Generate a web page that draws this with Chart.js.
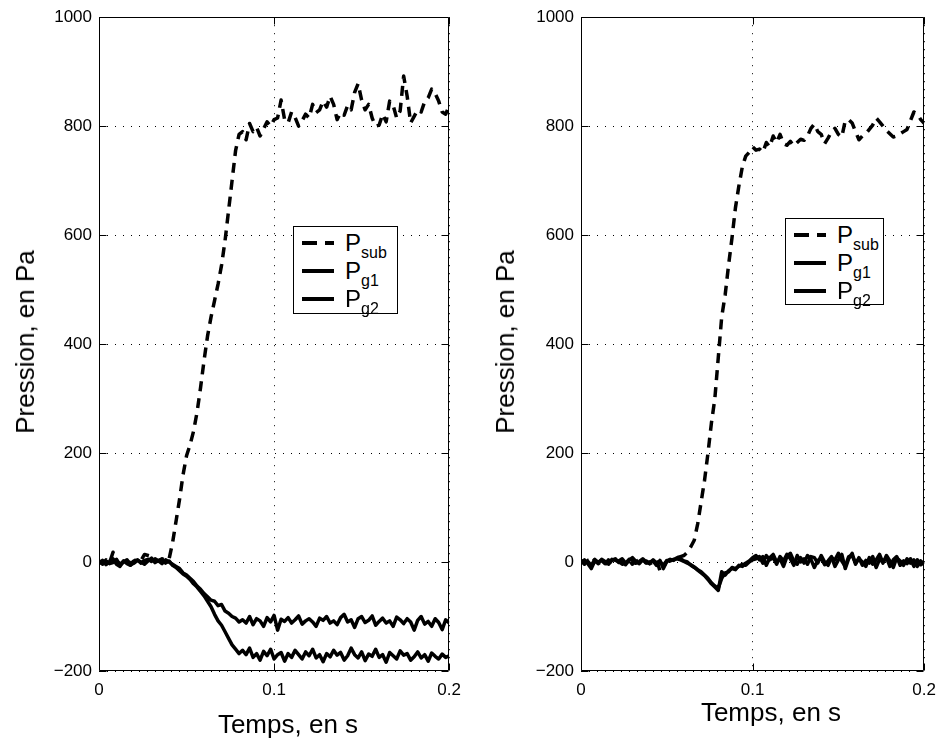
<!DOCTYPE html>
<html lang="fr">
<head>
<meta charset="UTF-8">
<title>Pression, en Pa</title>
<script src="https://cdn.jsdelivr.net/npm/chart.js@4.4.0/dist/chart.umd.min.js"></script>
<style>
    body {
        margin: 0;
        background: #fff;
        font-family: 'Liberation Sans', Arial, Helvetica, sans-serif;
        color: #000;
    }
    #wrap { position: relative; width: 945px; height: 743px; overflow: hidden; }
    canvas { position: absolute; top: 0; }
    #c-left { left: 0; }
    #c-right { left: 470px; }
    .axis-title {
        position: absolute;
        font-size: 26px;
        line-height: 1;
        white-space: nowrap;
        transform: translate(-50%, -50%);
    }
    .axis-title.y { transform: translate(-50%, -50%) rotate(-90deg); }
    .legend {
        position: absolute;
        border: 1px solid #000;
        background: #fff;
        box-sizing: border-box;
    }
    .legend .row {
        position: absolute;
        left: 0;
        height: 28px;
        display: flex;
        align-items: center;
    }
    .legend svg { margin-left: 8px; display: block; }
    .legend .lbl { margin-left: 11px; font-size: 24px; line-height: 1; white-space: nowrap; }
    .legend sub { font-size: 16px; vertical-align: -7px; line-height: 0; }
</style>
</head>
<body>
<div id="wrap">
    <canvas id="c-left" width="470" height="743"></canvas>
    <canvas id="c-right" width="475" height="743"></canvas>

    <div class="axis-title y" style="left:25px; top:342px;">Pression, en Pa</div>
    <div class="axis-title" style="left:288px; top:724px;">Temps, en s</div>
    <div class="axis-title y" style="left:505px; top:342px;">Pression, en Pa</div>
    <div class="axis-title" style="left:771px; top:712px;">Temps, en s</div>

    <div class="legend" id="leg-left" style="left:293px; top:226px; width:105px; height:88px;"></div>
    <div class="legend" id="leg-right" style="left:785px; top:218px; width:99px; height:87px;"></div>
</div>

<script>
    // sampling times (s)
    const time = [
        0.000, 0.002, 0.004, 0.006, 0.008, 0.010, 0.012, 0.014, 0.016, 0.018,
        0.020, 0.022, 0.024, 0.026, 0.028, 0.030, 0.032, 0.034, 0.036, 0.038,
        0.040, 0.042, 0.044, 0.046, 0.048, 0.050, 0.052, 0.054, 0.056, 0.058,
        0.060, 0.062, 0.064, 0.066, 0.068, 0.070, 0.072, 0.074, 0.076, 0.078,
        0.080, 0.082, 0.084, 0.086, 0.088, 0.090, 0.092, 0.094, 0.096, 0.098,
        0.100, 0.102, 0.104, 0.106, 0.108, 0.110, 0.112, 0.114, 0.116, 0.118,
        0.120, 0.122, 0.124, 0.126, 0.128, 0.130, 0.132, 0.134, 0.136, 0.138,
        0.140, 0.142, 0.144, 0.146, 0.148, 0.150, 0.152, 0.154, 0.156, 0.158,
        0.160, 0.162, 0.164, 0.166, 0.168, 0.170, 0.172, 0.174, 0.176, 0.178,
        0.180, 0.182, 0.184, 0.186, 0.188, 0.190, 0.192, 0.194, 0.196, 0.198,
        0.200
    ];

    // left plot (Pa)
    const pSubLeft = [
        2, -3, 4, -2, 18, 3, -4, 1, 5, -3,
        2, 6, 3, 14, 12, 10, 4, 2, 6, 3,
        5, 35, 75, 115, 160, 195, 215, 240, 275, 320,
        370, 415, 450, 480, 510, 545, 590, 645, 700, 755,
        785, 790, 775, 805, 790, 798, 782, 795, 808, 800,
        812, 815, 848, 812, 806, 826, 816, 800, 810, 822,
        815, 840, 825, 830, 846, 835, 855, 840, 812, 825,
        820, 838, 830, 862, 878, 848, 830, 840, 815, 800,
        802, 822, 808, 846, 838, 815, 828, 892, 855, 806,
        818, 830, 826, 845, 852, 868, 860, 846, 826, 822,
        838
    ];
    const pG1Left = [
        -2, 3, -5, 1, 6, -4, -8, 2, -3, -6,
        1, 4, -2, 3, 5, 1, 6, 2, -3, 4,
        0, -4, -8, -12, -20, -24, -30, -36, -44, -50,
        -58, -64, -70, -72, -80, -78, -90, -94, -100, -103,
        -110, -106, -112, -100, -115, -104, -108, -118, -102, -110,
        -98, -125, -105, -109, -102, -112, -106, -99, -114, -108,
        -104, -110, -118, -103, -107, -100, -112, -108, -115, -102,
        -96, -110, -106, -120, -104, -100, -111, -107, -99, -116,
        -109, -103, -112, -108, -118, -101, -106, -113, -104, -110,
        -125, -107, -100, -114, -109, -118, -104, -111, -124, -106,
        -112
    ];
    const pG2Left = [
        1, -4, 2, -3, -1, 5, -6, 0, 4, -5,
        -2, 3, 0, -4, 2, 7, -1, 3, 5, -2,
        2, -6, -10, -16, -22, -26, -32, -40, -46, -54,
        -62, -72, -82, -96, -108, -116, -128, -140, -152, -160,
        -168, -162, -170, -158, -175, -168, -180, -164, -172, -160,
        -178, -170, -166, -182, -168, -175, -162, -170, -178, -165,
        -172, -160, -176, -170, -183, -168, -174, -162, -171, -166,
        -180, -172, -158, -170, -176, -165, -181, -169, -173, -160,
        -175, -170, -184, -166, -172, -178, -163, -171, -168, -180,
        -174, -165, -176, -170, -182, -167, -173, -178, -169, -175,
        -172
    ];

    // right plot (Pa)
    const pSubRight = [
        2, -4, 3, -2, 5, -3, 1, -5, 4, 0,
        -3, 2, 6, -2, 3, -4, 1, 4, -2, 2,
        -3, 0, 5, -16, -10, 2, 4, 6, 8, 10,
        12, 18, 28, 40, 70, 110, 150, 200, 255, 300,
        375, 450, 490, 545, 595, 650, 690, 725, 745, 752,
        762, 756, 758, 752, 770, 762, 782, 770, 785, 768,
        765, 772, 764, 770, 776, 774, 782, 796, 804, 790,
        785, 768, 778, 790, 796, 785, 780, 810, 812, 806,
        790, 775, 782, 786, 794, 802, 815, 808, 800, 792,
        786, 780, 782, 786, 790, 794, 810, 826, 822, 812,
        805
    ];
    const pG1Right = [
        0, 4, -3, -12, 2, -2, 5, 1, -4, 3,
        6, -1, 2, -5, 3, 8, 1, -3, 4, -2,
        0, 2, -6, 3, -12, 1, 5, 3, 8, 6,
        2, 0, -6, -10, -15, -20, -25, -32, -40, -46,
        -52, -18, -24, -16, -12, -14, -6, -8, -2, 2,
        8, 12, 4, 10, -6, 8, 14, 0, 6, -8,
        10, 16, 2, -4, 8, -2, 12, 5, -10, 3,
        7, -5, 2, 10, -8, 4, 14, -12, 6, 16,
        -4, 8, -6, 3, -2, 10, -10, 5, 0, 8,
        -8, 4, 10, -6, 2, -3, 6, -8, 4, -5,
        0
    ];
    const pG2Right = [
        2, -2, 1, -6, 4, 0, 3, -3, -2, 5,
        3, 1, -4, -2, 5, 4, -2, 1, 6, 0,
        -3, 4, -2, 1, -6, 3, 2, 5, 6, 4,
        1, -2, -5, -9, -14, -18, -24, -30, -38, -44,
        -48, -30, -20, -18, -10, -12, -8, -4, -6, 0,
        4, 6, 10, -2, 12, 4, 8, -4, 10, 2,
        14, 6, -6, 12, 0, 6, -4, 10, 8, -2,
        12, 0, -6, 8, 4, 16, 2, -8, 10, 12,
        -2, 6, 0, -8, 8, -4, 4, 14, -2, 12,
        2, -10, 8, 2, -6, 6, -2, 4, -8, 2,
        -4
    ];

    const seriesSubs = ['sub', 'g1', 'g2'];
    const seriesDash = [[10, 7], [], []];
    const xTicks = [0, 0.1, 0.2];
    const yTicks = [-200, 0, 200, 400, 600, 800, 1000];

    const FONT = "'Liberation Sans', Arial, Helvetica, sans-serif";
    Chart.defaults.font.family = FONT;
    Chart.defaults.color = '#000';

    // axes box + inward tick marks, MATLAB style
    const frame = {
        id: 'frame',
        afterDraw(chart) {
            const { ctx, chartArea: a, scales } = chart;
            const L = Math.round(a.left) + 0.5, R = Math.round(a.right) - 0.5;
            const T = Math.round(a.top) + 0.5, B = Math.round(a.bottom) - 0.5;
            ctx.save();
            ctx.strokeStyle = '#000';
            ctx.lineWidth = 1;
            ctx.setLineDash([]);
            ctx.beginPath();
            ctx.rect(L, T, R - L, B - T);
            scales.y.ticks.forEach(t => {
                const p = Math.round(scales.y.getPixelForValue(t.value)) + 0.5;
                ctx.moveTo(L, p); ctx.lineTo(L + 7, p);
                ctx.moveTo(R - 7, p); ctx.lineTo(R, p);
            });
            scales.x.ticks.forEach(t => {
                const p = Math.round(scales.x.getPixelForValue(t.value)) + 0.5;
                ctx.moveTo(p, B); ctx.lineTo(p, B - 7);
                ctx.moveTo(p, T); ctx.lineTo(p, T + 7);
            });
            ctx.stroke();
            ctx.restore();
        }
    };

    function makeChart(id, values, yWidth, padRight) {
        const datasets = values.map((vals, k) => ({
            label: 'P' + seriesSubs[k],
            data: time.map((t, i) => ({ x: t, y: vals[i] })),
            borderColor: '#000',
            borderWidth: 3.5,
            borderDash: seriesDash[k],
            borderJoinStyle: 'round',
            borderCapStyle: 'butt',
            pointRadius: 0,
            tension: 0,
            fill: false
        }));
        return new Chart(document.getElementById(id), {
            type: 'line',
            data: { datasets: datasets },
            options: {
                responsive: false,
                animation: false,
                devicePixelRatio: 1,
                layout: { padding: { top: 14, right: padRight, left: 0, bottom: 0 } },
                plugins: { legend: { display: false }, tooltip: { enabled: false } },
                scales: {
                    x: {
                        type: 'linear',
                        min: xTicks[0],
                        max: xTicks[xTicks.length - 1],
                        afterFit: s => { s.height = 72; },
                        afterBuildTicks: s => { s.ticks = xTicks.map(v => ({ value: v })); },
                        grid: { color: '#000', lineWidth: 1, drawTicks: false },
                        border: { display: false, dash: [1, 7] },
                        ticks: {
                            padding: 9,
                            maxRotation: 0,
                            font: { size: 17 },
                            callback: v => String(+v.toFixed(2))
                        }
                    },
                    y: {
                        min: yTicks[0],
                        max: yTicks[yTicks.length - 1],
                        afterFit: s => { s.width = yWidth; },
                        afterBuildTicks: s => { s.ticks = yTicks.map(v => ({ value: v })); },
                        grid: { color: '#000', lineWidth: 1, drawTicks: false },
                        border: { display: false, dash: [1, 7] },
                        ticks: {
                            padding: 7,
                            font: { size: 17 },
                            callback: v => v < 0 ? '\u2212' + Math.abs(v) : String(v)
                        }
                    }
                }
            },
            plugins: [frame]
        });
    }

    function buildLegend(boxId) {
        const box = document.getElementById(boxId);
        const rowCentres = [16, 44, 72];
        seriesSubs.forEach((sub, k) => {
            const row = document.createElement('div');
            row.className = 'row';
            row.style.top = (rowCentres[k] - 14) + 'px';
            const dash = seriesDash[k].length ? ' stroke-dasharray="15 8"' : '';
            row.innerHTML =
                '<svg width="32" height="6"><line x1="0" y1="3" x2="32" y2="3" stroke="#000" stroke-width="4"' + dash + '/></svg>' +
                '<span class="lbl">P<sub>' + sub + '</sub></span>';
            box.appendChild(row);
        });
    }

    makeChart('c-left', [pSubLeft, pG1Left, pG2Left], 99, 20);
    makeChart('c-right', [pSubRight, pG1Right, pG2Right], 111, 12);
    buildLegend('leg-left');
    buildLegend('leg-right');
</script>
</body>
</html>
